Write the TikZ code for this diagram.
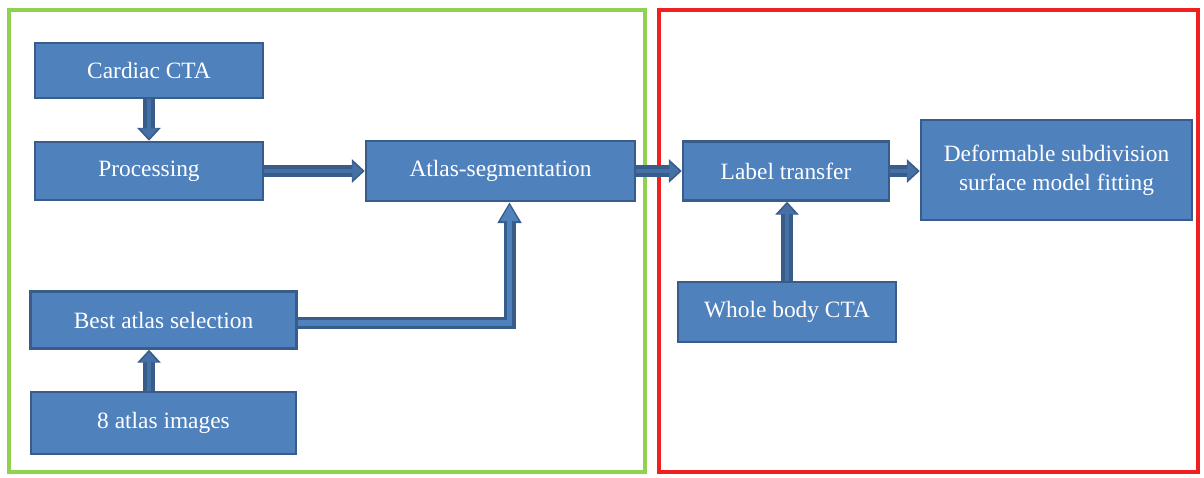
\documentclass[tikz,border=0pt]{standalone}
\usepackage{fontspec}
\setmainfont{Liberation Serif}
\usetikzlibrary{arrows.meta}
\definecolor{boxblue}{HTML}{4F81BD}
\definecolor{edgeblue}{HTML}{385D8A}
\definecolor{framegreen}{HTML}{92D050}
\definecolor{framered}{HTML}{F02020}
\tikzstyle{block}=[draw=edgeblue,fill=boxblue,line width=1.2pt,text=white,inner sep=0pt,align=center,font=\fontsize{11.7}{14.5}\selectfont]
\tikzstyle{flow}=[draw=edgeblue!45!boxblue,line width=2.4pt,shorten >=1.2pt,-{Triangle[length=5pt,width=8.5pt]},preaction={draw=edgeblue,line width=5.6pt,shorten >=0pt,-{Triangle[length=6.5pt,width=11.5pt]}}]
\tikzstyle{bigflow}=[draw=boxblue,line width=2.8pt,shorten >=1.4pt,-{Triangle[length=8pt,width=8.5pt]},preaction={draw=edgeblue,line width=6pt,shorten >=0pt,-{Triangle[length=10.5pt,width=11.5pt]}}]

\begin{document}
\begin{tikzpicture}[x=0.5pt,y=-0.5pt]
\useasboundingbox (0,0) rectangle (1204,477);
\draw[framegreen,line width=1.6pt] (9,10) rectangle (645,472);
\draw[framered,line width=1.6pt] (659,10) rectangle (1198,472);
\node[block,minimum width=114pt,minimum height=27.5pt] (cardiac) at (149,70.5) {Cardiac CTA};
\node[block,minimum width=114pt,minimum height=29pt] (proc) at (149,171) {Processing};
\node[block,minimum width=134.5pt,minimum height=30pt] (seg) at (500.5,171) {Atlas-segmentation};
\node[block,minimum width=133pt,minimum height=28.5pt] (best) at (163.5,320) {Best atlas selection};
\node[block,minimum width=132.5pt,minimum height=31pt] (eight) at (163.5,423) {8 atlas images};
\node[block,minimum width=103pt,minimum height=29.5pt] (label) at (786,171) {Label transfer};
\node[block,minimum width=109pt,minimum height=30pt] (whole) at (787,312) {Whole body CTA};
\node[block,minimum width=135.5pt,minimum height=50pt] (deform) at (1056.5,170) {Deformable subdivision\\surface model fitting};
\draw[flow] (cardiac) -- (proc);
\draw[flow] (proc) -- (seg);
\draw[flow] (eight.north -| proc.south) -- (best.south -| proc.south);
\draw[bigflow] ([yshift=-1.5pt]best.east) -| ([xshift=4.5pt]seg.south);
\draw[flow] (seg) -- (label);
\draw[flow] (whole.north) -- (whole.north |- label.south);
\draw[flow] (label) -- (label -| deform.west);
\end{tikzpicture}
\end{document}
